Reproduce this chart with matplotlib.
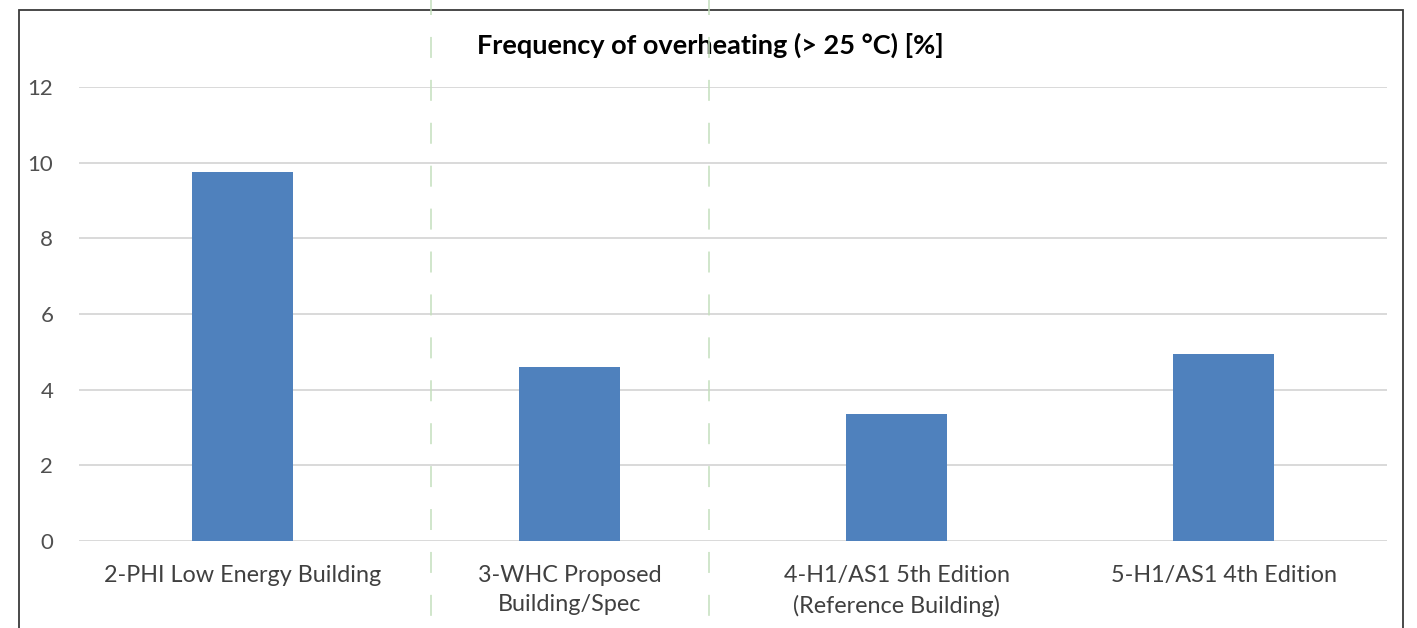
import matplotlib
matplotlib.use("Agg")
import matplotlib.pyplot as plt
from matplotlib.patches import Rectangle
from matplotlib.lines import Line2D

plt.rcParams['font.family'] = ['Lato', 'DejaVu Sans']
plt.rcParams['lines.scale_dashes'] = False

categories = ["2-PHI Low Energy Building",
              "3-WHC Proposed\nBuilding/Spec",
              "4-H1/AS1 5th Edition\n(Reference Building)",
              "5-H1/AS1 4th Edition"]
overheating = [9.75, 4.6, 3.35, 4.93]
yticks = [0, 2, 4, 6, 8, 10, 12]

W, H = 1417, 628
fig = plt.figure(figsize=(W / 100, H / 100), dpi=100)
fig.patch.set_facecolor("white")

ax = fig.add_axes([79 / W, 1 - 541 / H, (1387 - 79) / W, (541 - 87) / H])
x = range(len(categories))
ax.bar(x, overheating, width=0.31, color="#4f81bd", zorder=3)

ax.set_xlim(-0.5, 3.5)
ax.set_ylim(0, 12)
ax.set_yticks(yticks)
ax.set_yticklabels([str(v) for v in yticks], fontsize=16, color="#505050")
ax.set_xticks(list(x))
ax.set_xticklabels(categories, fontsize=16.8, color="#404040", linespacing=1.5, va="top")
ax.tick_params(axis="both", length=0)
ax.tick_params(axis="y", pad=18.5)
ax.tick_params(axis="x", pad=17)
ax.yaxis.grid(True, color="#d9d9d9", linewidth=1.4, zorder=0)
for s in ax.spines.values():
    s.set_visible(False)

fig.text(710 / W, 1 - 45 / H, "Frequency of overheating (> 25 °C) [%]",
         ha="center", va="center", fontsize=19.5, fontweight="bold", color="black")

# outer chart frame, open at the bottom of the image
fig.patches.append(Rectangle((19 / W, -0.1), (1403 - 19) / W, 1.1 - 10 / H,
                             transform=fig.transFigure, fill=False,
                             edgecolor="#3a3a3a", linewidth=1.3, zorder=5))

# green dashed separators
for xp in (431, 709):
    fig.add_artist(Line2D([xp / W, xp / W], [1, 0], transform=fig.transFigure,
                          color="#c4dfbd", linewidth=1.1,
                          linestyle=(4.3, (15.1, 15.8)), zorder=6))

fig.savefig("out.png", dpi=100)
